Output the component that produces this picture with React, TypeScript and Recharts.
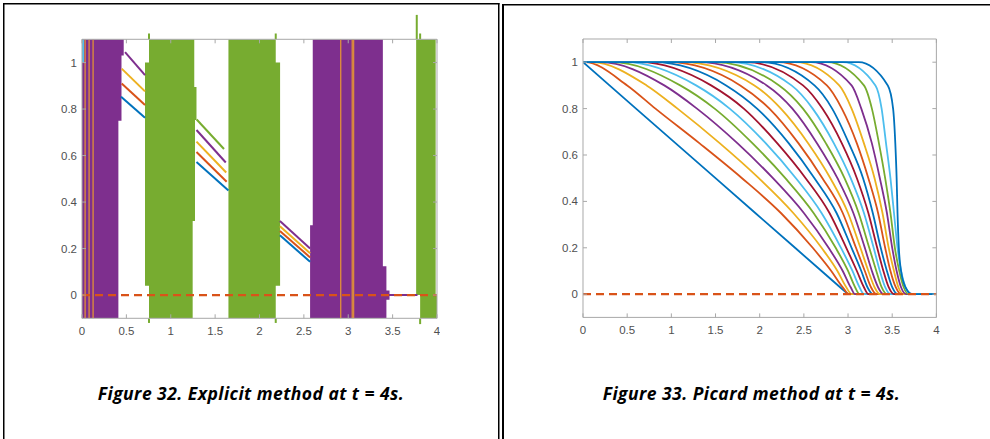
import React from 'react';
import { ComposedChart, Line, Area, XAxis, YAxis, ReferenceLine } from 'recharts';

// ---- shared axes ----
const X_TICKS = [0, 0.5, 1, 1.5, 2, 2.5, 3, 3.5, 4];
const Y_TICKS = [0, 0.2, 0.4, 0.6, 0.8, 1];
const X_DOMAIN: [number, number] = [0, 4];
const Y_DOMAIN: [number, number] = [-0.1, 1.1];

const C = {
  blue: '#0072BD',
  red: '#D95319',
  yellow: '#EDB120',
  purple: '#7E2F8E',
  green: '#77AC30',
  cyan: '#4DBEEE',
  darkred: '#A2142F',
  tan: '#DA8A3E',
};

// ---- Figure 32: explicit method (blow-up regions as [x, low, high]) ----
const EXPLICIT_PURPLE_A = [[0, -0.1, 1.1], [0.41, -0.1, 1.1], [0.41, 0.75, 1.1], [0.445, 0.75, 1.1], [0.445, 1.03, 1.1], [0.47, 1.03, 1.1], [0.47, 1.1, 1.1]];
const EXPLICIT_GREEN_C = [[0.71, 0.04, 1.0], [0.755, 0.04, 1.0], [0.755, -0.1, 1.1], [1.247, -0.1, 1.1], [1.247, 0.318, 1.1], [1.265, 0.318, 1.1], [1.265, 0.318, 0.895], [1.273, 0.318, 0.895], [1.273, 0.753, 0.895], [1.29, 0.753, 0.895], [1.29, 0.753, 0.753]];
const EXPLICIT_GREEN_D = [[1.65, -0.1, 1.1], [2.183, -0.1, 1.1], [2.183, 0.04, 1.0], [2.232, 0.04, 1.0], [2.232, 0.04, 0.04]];
const EXPLICIT_PURPLE_B = [[2.57, -0.1, 0.3], [2.6, -0.1, 0.3], [2.6, -0.1, 1.1], [3.39, -0.1, 1.1], [3.39, -0.1, 0.124], [3.43, -0.1, 0.124], [3.43, -0.02, 0.02], [3.465, -0.02, 0.02], [3.465, 0, 0]];
const EXPLICIT_GREEN_E = [[3.765, 0, 1.1], [3.81, 0, 1.1], [3.81, -0.1, 1.1], [3.985, -0.1, 1.1], [3.985, -0.1, 0], [4, -0.1, 0], [4, -0.1, -0.1]];

// stable pieces of the solution between the blow-ups, [x, y]
const GAP1_BLUE = [[0.44, 0.853], [0.71, 0.763]];
const GAP1_RED = [[0.447, 0.91], [0.71, 0.817]];
const GAP1_YELLOW = [[0.447, 0.974], [0.71, 0.876]];
const GAP1_PURPLE = [[0.485, 1.045], [0.71, 0.946]];
const GAP2_BLUE = [[1.29, 0.572], [1.65, 0.45]];
const GAP2_RED = [[1.29, 0.615], [1.63, 0.487]];
const GAP2_YELLOW = [[1.29, 0.66], [1.625, 0.527]];
const GAP2_PURPLE = [[1.29, 0.71], [1.62, 0.57]];
const GAP2_GREEN = [[1.292, 0.755], [1.6, 0.628]];
const GAP3_BLUE = [[2.23, 0.257], [2.57, 0.143]];
const GAP3_RED = [[2.23, 0.276], [2.57, 0.162]];
const GAP3_YELLOW = [[2.23, 0.296], [2.57, 0.18]];
const GAP3_PURPLE = [[2.23, 0.318], [2.57, 0.2]];
const GAP4_PURPLE = [[3.44, 0], [3.78, 0]];
const CYAN_STUB = [[0.006, 1.0], [0.006, 1.1]];
const TAN_STREAK_X = [0.035, 0.08, 0.125, 2.915, 3.045, 3.06];
// green strokes poking out of the axes box: [x, from, to]
const GREEN_OVERSHOOT = [[0.755, 1.1, 1.125], [0.755, -0.1, -0.12], [2.183, 1.1, 1.125], [2.183, -0.1, -0.12], [3.772, 1.1, 1.205], [3.81, 1.1, 1.125], [3.81, -0.1, -0.125]];
const ZERO_LINE = [[0, 0], [4, 0]];

// ---- Figure 33: Picard iterations, x where each curve reaches the given level ----
const PICARD_LEVELS = [1, 1, 0.9, 0.8, 0.65, 0.5, 0.35, 0.2, 0.1, 0.03, 0];
const PICARD_01 = [0, 0.001, 0.3, 0.6, 1.05, 1.5, 1.95, 2.4, 2.7, 2.91, 3.0];
const PICARD_02 = [0, 0.02, 0.5, 0.82, 1.32, 1.8, 2.24, 2.6, 2.81, 2.94, 3.01];
const PICARD_03 = [0, 0.1, 0.72, 1.07, 1.55, 1.99, 2.38, 2.7, 2.88, 2.98, 3.04];
const PICARD_04 = [0, 0.2, 0.92, 1.29, 1.75, 2.15, 2.5, 2.78, 2.94, 3.03, 3.08];
const PICARD_05 = [0, 0.33, 1.1, 1.49, 1.92, 2.29, 2.61, 2.86, 3.0, 3.08, 3.13];
const PICARD_06 = [0, 0.48, 1.28, 1.66, 2.07, 2.41, 2.7, 2.92, 3.05, 3.13, 3.18];
const PICARD_07 = [0, 0.64, 1.45, 1.82, 2.2, 2.52, 2.79, 2.98, 3.1, 3.18, 3.23];
const PICARD_08 = [0, 0.8, 1.62, 1.97, 2.33, 2.62, 2.87, 3.04, 3.15, 3.22, 3.28];
const PICARD_09 = [0, 0.96, 1.78, 2.11, 2.44, 2.71, 2.94, 3.09, 3.19, 3.26, 3.32];
const PICARD_10 = [0, 1.12, 1.94, 2.24, 2.55, 2.8, 3.0, 3.14, 3.23, 3.3, 3.36];
const PICARD_11 = [0, 1.3, 2.08, 2.37, 2.65, 2.88, 3.06, 3.19, 3.27, 3.34, 3.4];
const PICARD_12 = [0, 1.48, 2.22, 2.49, 2.75, 2.96, 3.12, 3.24, 3.32, 3.38, 3.44];
const PICARD_13 = [0, 1.66, 2.36, 2.6, 2.84, 3.03, 3.18, 3.29, 3.36, 3.42, 3.48];
const PICARD_14 = [0, 1.84, 2.49, 2.71, 2.93, 3.1, 3.23, 3.33, 3.4, 3.46, 3.52];
const PICARD_15 = [0, 2.02, 2.62, 2.82, 3.01, 3.17, 3.28, 3.37, 3.44, 3.5, 3.56];
const PICARD_16 = [0, 2.2, 2.76, 2.93, 3.1, 3.23, 3.34, 3.42, 3.48, 3.54, 3.6];
const PICARD_17 = [0, 2.4, 2.9, 3.04, 3.18, 3.3, 3.39, 3.46, 3.52, 3.57, 3.63];
const PICARD_18 = [0, 2.58, 3.04, 3.15, 3.27, 3.36, 3.44, 3.5, 3.55, 3.6, 3.66];
const PICARD_19 = [0, 2.76, 3.18, 3.27, 3.35, 3.42, 3.48, 3.53, 3.58, 3.63, 3.69];
const PICARD_20 = [0, 2.94, 3.31, 3.38, 3.43, 3.48, 3.52, 3.56, 3.6, 3.65, 3.71];
const PICARD_21 = [0, 3.12, 3.45, 3.51, 3.535, 3.55, 3.56, 3.575, 3.6, 3.65, 3.73];

const PICARD_CURVES = [
  PICARD_01, PICARD_02, PICARD_03, PICARD_04, PICARD_05, PICARD_06, PICARD_07,
  PICARD_08, PICARD_09, PICARD_10, PICARD_11, PICARD_12, PICARD_13, PICARD_14,
  PICARD_15, PICARD_16, PICARD_17, PICARD_18, PICARD_19, PICARD_20, PICARD_21,
];
const PICARD_COLORS = [
  C.blue, C.red, C.yellow, C.purple, C.green, C.cyan, C.darkred,
  C.blue, C.red, C.yellow, C.purple, C.green, C.cyan, C.darkred,
  C.blue, C.red, C.yellow, C.purple, C.green, C.cyan, C.blue,
];

// ---- helpers ----
const pts = (arr: number[][]) => arr.map(([x, y]) => ({ x, y }));
const band = (arr: number[][]) => arr.map(([x, lo, hi]) => ({ x, y: [lo, hi] }));

const BOX = '#a8a8a8';
const TICK_FONT = { fontSize: 11.5, fill: '#505050', fontFamily: '"Liberation Sans", Arial, sans-serif' };
const blank = () => '';

function axes() {
  return [
    <XAxis key="xb" xAxisId="b" type="number" dataKey="x" domain={X_DOMAIN} ticks={X_TICKS} interval={0}
      allowDataOverflow height={28} tickSize={-4} tickMargin={12.3} tick={TICK_FONT}
      axisLine={{ stroke: BOX }} tickLine={{ stroke: BOX }} />,
    <XAxis key="xt" xAxisId="t" orientation="top" type="number" dataKey="x" domain={X_DOMAIN} ticks={X_TICKS}
      interval={0} allowDataOverflow height={1} tickSize={-4} tickFormatter={blank}
      axisLine={{ stroke: BOX }} tickLine={{ stroke: BOX }} />,
    <YAxis key="yl" yAxisId="l" type="number" domain={Y_DOMAIN} ticks={Y_TICKS} interval={0}
      allowDataOverflow width={40} tickSize={-4} tickMargin={9} tick={TICK_FONT}
      axisLine={{ stroke: BOX }} tickLine={{ stroke: BOX }} />,
    <YAxis key="yr" yAxisId="r" orientation="right" type="number" domain={Y_DOMAIN} ticks={Y_TICKS}
      interval={0} allowDataOverflow width={1} tickSize={-4} tickFormatter={blank}
      axisLine={{ stroke: BOX }} tickLine={{ stroke: BOX }} />,
  ];
}

const seg = (key: string, data: number[][], color: string, width = 2, dash?: string) => (
  <Line key={key} xAxisId="b" yAxisId="l" data={pts(data)} dataKey="y" type="linear" stroke={color}
    strokeWidth={width} strokeDasharray={dash} dot={false} activeDot={false} isAnimationActive={false} />
);

const blob = (key: string, data: number[][], color: string) => (
  <Area key={key} xAxisId="b" yAxisId="l" data={band(data)} dataKey="y" type="linear" fill={color}
    fillOpacity={1} stroke="none" dot={false} activeDot={false} isAnimationActive={false} />
);

function ExplicitChart() {
  return (
    <ComposedChart width={398} height={338.3} margin={{ top: 30.3, right: 2, bottom: 0, left: 0 }}>
      {axes()}
      {blob('pa', EXPLICIT_PURPLE_A, C.purple)}
      {blob('gc', EXPLICIT_GREEN_C, C.green)}
      {blob('gd', EXPLICIT_GREEN_D, C.green)}
      {blob('pb', EXPLICIT_PURPLE_B, C.purple)}
      {blob('ge', EXPLICIT_GREEN_E, C.green)}
      {seg('g1b', GAP1_BLUE, C.blue)}
      {seg('g1r', GAP1_RED, C.red)}
      {seg('g1y', GAP1_YELLOW, C.yellow)}
      {seg('g1p', GAP1_PURPLE, C.purple)}
      {seg('g2b', GAP2_BLUE, C.blue)}
      {seg('g2r', GAP2_RED, C.red)}
      {seg('g2y', GAP2_YELLOW, C.yellow)}
      {seg('g2p', GAP2_PURPLE, C.purple)}
      {seg('g2g', GAP2_GREEN, C.green)}
      {seg('g3b', GAP3_BLUE, C.blue)}
      {seg('g3r', GAP3_RED, C.red)}
      {seg('g3y', GAP3_YELLOW, C.yellow)}
      {seg('g3p', GAP3_PURPLE, C.purple)}
      {seg('g4p', GAP4_PURPLE, C.purple)}
      {seg('cy', CYAN_STUB, C.cyan, 3)}
      {TAN_STREAK_X.map((x, i) => seg('tan' + i, [[x, -0.1], [x, 1.1]], C.tan, 1.4))}
      {seg('zero', ZERO_LINE, C.red, 2.2, '8 5')}
      {GREEN_OVERSHOOT.map(([x, a, b], i) => (
        <ReferenceLine key={'os' + i} xAxisId="b" yAxisId="l" ifOverflow="visible"
          segment={[{ x, y: a }, { x, y: b }]} stroke={C.green} strokeWidth={2} />
      ))}
    </ComposedChart>
  );
}

function PicardChart() {
  return (
    <ComposedChart width={396.4} height={307.4} margin={{ top: 0, right: 2, bottom: 0, left: 0 }}>
      {axes()}
      {PICARD_CURVES.map((xs, i) => (
        <Line key={'p' + i} xAxisId="b" yAxisId="l"
          data={xs.map((x, j) => ({ x, y: PICARD_LEVELS[j] })).concat([{ x: 4, y: 0 }])}
          dataKey="y" type={i === 0 ? 'linear' : 'monotone'} stroke={PICARD_COLORS[i]} strokeWidth={1.8}
          dot={false} activeDot={false} isAnimationActive={false} />
      ))}
      <Line xAxisId="b" yAxisId="l" data={pts(ZERO_LINE)} dataKey="y" type="linear" stroke={C.red}
        strokeWidth={2.2} strokeDasharray="8 5" dot={false} activeDot={false} isAnimationActive={false} />
    </ComposedChart>
  );
}

const CAPTION_FONT = {
  fontFamily: '"Open Sans", sans-serif', fontWeight: 700, fontStyle: 'italic', fontSize: 17.5, letterSpacing: 0.45,
};

export default function App() {
  return (
    <div style={{ position: 'absolute', left: 0, top: 0, width: 990, height: 439, background: '#fff', overflow: 'hidden' }}>
      <svg width={990} height={439} style={{ position: 'absolute', left: 0, top: 0 }}>
        <g stroke="#000" fill="none">
          <line x1={3.75} y1={3} x2={3.75} y2={439} strokeWidth={1.5} />
          <line x1={3} y1={3.75} x2={499.5} y2={3.75} strokeWidth={1.5} />
          <line x1={498.75} y1={3} x2={498.75} y2={439} strokeWidth={1.5} />
          <line x1={503} y1={4} x2={503} y2={439} strokeWidth={2} />
          <line x1={502} y1={4.75} x2={990} y2={4.75} strokeWidth={1.5} />
        </g>
        <text x={251} y={400} textAnchor="middle" style={CAPTION_FONT}>Figure 32. Explicit method at t = 4s.</text>
        <text x={751.5} y={400} textAnchor="middle" style={CAPTION_FONT}>Figure 33. Picard method at t = 4s.</text>
      </svg>
      <div style={{ position: 'absolute', left: 42, top: 8 }}>
        <ExplicitChart />
      </div>
      <div style={{ position: 'absolute', left: 543.3, top: 38.3 }}>
        <PicardChart />
      </div>
    </div>
  );
}
